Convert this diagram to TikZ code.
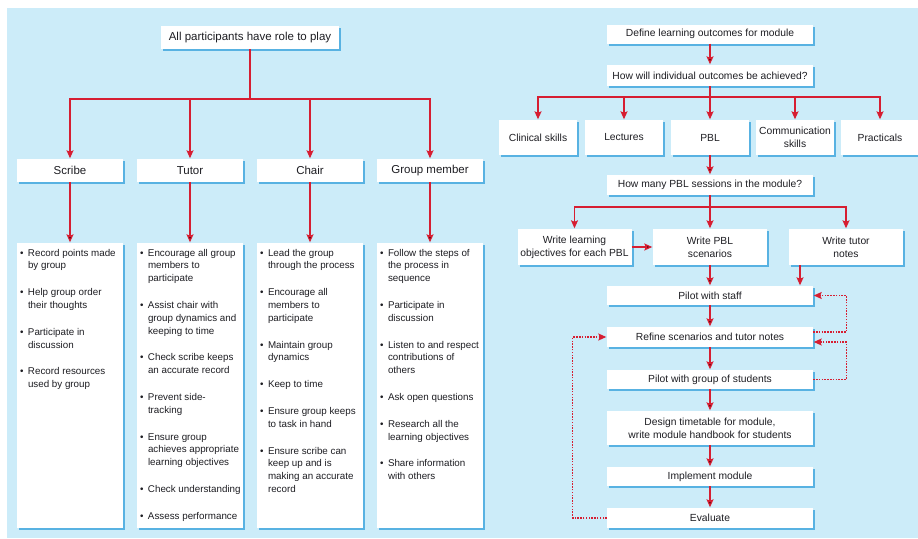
\documentclass[tikz,border=0pt]{standalone}
\usepackage{fontspec}
\setmainfont{Liberation Sans}
\usetikzlibrary{positioning, arrows.meta, shadows}

\definecolor{panelblue}{RGB}{204,236,249}
\definecolor{shadeblue}{RGB}{88,178,226}
\definecolor{linkred}{RGB}{214,30,50}
\definecolor{inkgray}{RGB}{30,30,35}

\newcommand{\bul}[1]{\makebox[10pt][l]{\hspace*{2pt}\textbullet}#1}
\newcommand{\cont}[1]{\hspace*{10pt}#1}
\newcommand{\duties}[1]{\parbox[t][273pt][t]{104pt}{\raggedright\fontsize{9.8}{12.8}\selectfont #1}}

\begin{document}
\begin{tikzpicture}[x=1pt, y=-1pt, on grid, shorten >=0.5pt,
    >={Stealth[length=8pt, width=7pt, inset=1.5pt]},
    shadowed/.style={fill=white, text=inkgray,
      drop shadow={shadow xshift=2.2pt, shadow yshift=-2.2pt, fill=shadeblue, opacity=1}},
    role/.style={shadowed, minimum width=106pt, minimum height=23pt, inner sep=1pt,
      font=\fontsize{11.5}{13}\selectfont},
    body/.style={shadowed, minimum width=106pt, inner xsep=1pt, inner ysep=6pt},
    flow/.style={shadowed, minimum width=206pt, inner sep=1pt, align=center,
      font=\fontsize{10.3}{13}\selectfont},
    method/.style={flow, minimum width=78pt, minimum height=35pt},
    task/.style={flow, minimum width=114pt, minimum height=36pt},
    link/.style={draw=linkred, line width=1.3pt},
    loopback/.style={link, dash pattern=on 1.5pt off 1.3pt, ->}]

  \useasboundingbox (0,0) rectangle (918,538);
  \fill[panelblue] (7,8) rectangle (918,538);

  \node[role, minimum width=178pt] (allroles) at (250,37.5) {All participants have role to play};
  \node[role] (scribe) at (70,170.5) {Scribe};
  \node[role] (tutor) [right=120pt of scribe] {Tutor};
  \node[role] (chair) [right=120pt of tutor] {Chair};
  \node[role] (member) [right=120pt of chair] {Group member};

  \node[body] (scribelist) [below=215pt of scribe] {\duties{%
    \bul{Record points made}\\ \cont{by group}\\[14pt]
    \bul{Help group order}\\ \cont{their thoughts}\\[14pt]
    \bul{Participate in}\\ \cont{discussion}\\[14pt]
    \bul{Record resources}\\ \cont{used by group}}};
  \node[body] (tutorlist) [below=215pt of tutor] {\duties{%
    \bul{Encourage all group}\\ \cont{members to}\\ \cont{participate}\\[14pt]
    \bul{Assist chair with}\\ \cont{group dynamics and}\\ \cont{keeping to time}\\[14pt]
    \bul{Check scribe keeps}\\ \cont{an accurate record}\\[14pt]
    \bul{Prevent side-}\\ \cont{tracking}\\[14pt]
    \bul{Ensure group}\\ \cont{achieves appropriate}\\ \cont{learning objectives}\\[14pt]
    \bul{Check understanding}\\[14pt]
    \bul{Assess performance}}};
  \node[body] (chairlist) [below=215pt of chair] {\duties{%
    \bul{Lead the group}\\ \cont{through the process}\\[14pt]
    \bul{Encourage all}\\ \cont{members to}\\ \cont{participate}\\[14pt]
    \bul{Maintain group}\\ \cont{dynamics}\\[14pt]
    \bul{Keep to time}\\[14pt]
    \bul{Ensure group keeps}\\ \cont{to task in hand}\\[14pt]
    \bul{Ensure scribe can}\\ \cont{keep up and is}\\ \cont{making an accurate}\\ \cont{record}}};
  \node[body] (memberlist) [below=215pt of member] {\duties{%
    \bul{Follow the steps of}\\ \cont{the process in}\\ \cont{sequence}\\[14pt]
    \bul{Participate in}\\ \cont{discussion}\\[14pt]
    \bul{Listen to and respect}\\ \cont{contributions of}\\ \cont{others}\\[14pt]
    \bul{Ask open questions}\\[14pt]
    \bul{Research all the}\\ \cont{learning objectives}\\[14pt]
    \bul{Share information}\\ \cont{with others}}};

  \coordinate (rolebus) at (250,99);
  \draw[link, ->] (allroles) -- (rolebus) -| (scribe);
  \draw[link, ->] (allroles) -- (rolebus) -| (tutor);
  \draw[link, ->] (allroles) -- (rolebus) -| (chair);
  \draw[link, ->] (allroles) -- (rolebus) -| (member);
  \path[link, ->]
  (scribe) edge (scribelist)
  (tutor) edge (tutorlist)
  (chair) edge (chairlist)
  (member) edge (memberlist);

  \node[flow, minimum height=19pt] (outcomes) at (710,34) {Define learning outcomes for module};
  \node[flow, minimum height=21pt] (howachieve) at (710,75.5) {How will individual outcomes be achieved?};
  \node[method] (pbl) at (710,137.5) {PBL};
  \node[method] (lectures) [left=86pt of pbl] {Lectures};
  \node[method] (clinical) [left=86pt of lectures] {Clinical skills};
  \node[method] (communication) [right=85pt of pbl] {Communication\\skills};
  \node[method] (practicals) [right=85pt of communication] {Practicals};
  \node[flow, minimum height=20pt] (sessions) at (710,185) {How many PBL sessions in the module?};
  \node[task] (scenarios) at (710,247) {Write PBL\\scenarios};
  \node[task] (objectives) [left=135.5pt of scenarios] {Write learning\\objectives for each PBL};
  \node[task] (tutornotes) [right=136pt of scenarios] {Write tutor\\notes};
  \node[flow, minimum height=19pt] (pilotstaff) at (710,295.5) {Pilot with staff};
  \node[flow, minimum height=20pt] (refine) [below=41.5pt of pilotstaff] {Refine scenarios and tutor notes};
  \node[flow, minimum height=19pt] (pilotgroup) [below=42.5pt of refine] {Pilot with group of students};
  \node[flow, minimum height=34pt] (timetable) [below=48.5pt of pilotgroup] {Design timetable for module,\\write module handbook for students};
  \node[flow, minimum height=19pt] (implement) [below=48.5pt of timetable] {Implement module};
  \node[flow, minimum height=20pt] (evaluate) [below=41.5pt of implement] {Evaluate};

  \coordinate (methodbus) at (710,97);
  \coordinate (taskbus) at (710,207);
  \path[link, ->] (outcomes) edge (howachieve);
  \draw[link, ->] (howachieve) -- (methodbus) -| (clinical);
  \draw[link, ->] (howachieve) -- (methodbus) -| (lectures);
  \draw[link, ->] (howachieve) -- (methodbus) -| (pbl);
  \draw[link, ->] (howachieve) -- (methodbus) -| (communication);
  \draw[link, ->] (howachieve) -- (methodbus) -| (practicals);
  \path[link, ->] (pbl) edge (sessions);
  \draw[link, ->] (sessions) -- (taskbus) -| (objectives);
  \draw[link, ->] (sessions) -- (taskbus) -| (scenarios);
  \draw[link, ->] (sessions) -- (taskbus) -| (tutornotes);
  \path[link, ->]
  (objectives) edge (scenarios)
  (scenarios) edge (pilotstaff)
  (pilotstaff) edge (refine)
  (refine) edge (pilotgroup)
  (pilotgroup) edge (timetable)
  (timetable) edge (implement)
  (implement) edge (evaluate);
  \draw[link, ->] ([xshift=-46pt]tutornotes.south) -- ([xshift=-46pt]tutornotes.south |- pilotstaff.north);

  \draw[loopback] ([yshift=5pt]refine.east) -- ++(33,0) |- (pilotstaff.east);
  \draw[loopback] (pilotgroup.east) -- ++(33,0) |- ([yshift=-5pt]refine.east);
  \draw[loopback] (evaluate.west) -- ++(-34,0) |- (refine.west);
\end{tikzpicture}
\end{document}
